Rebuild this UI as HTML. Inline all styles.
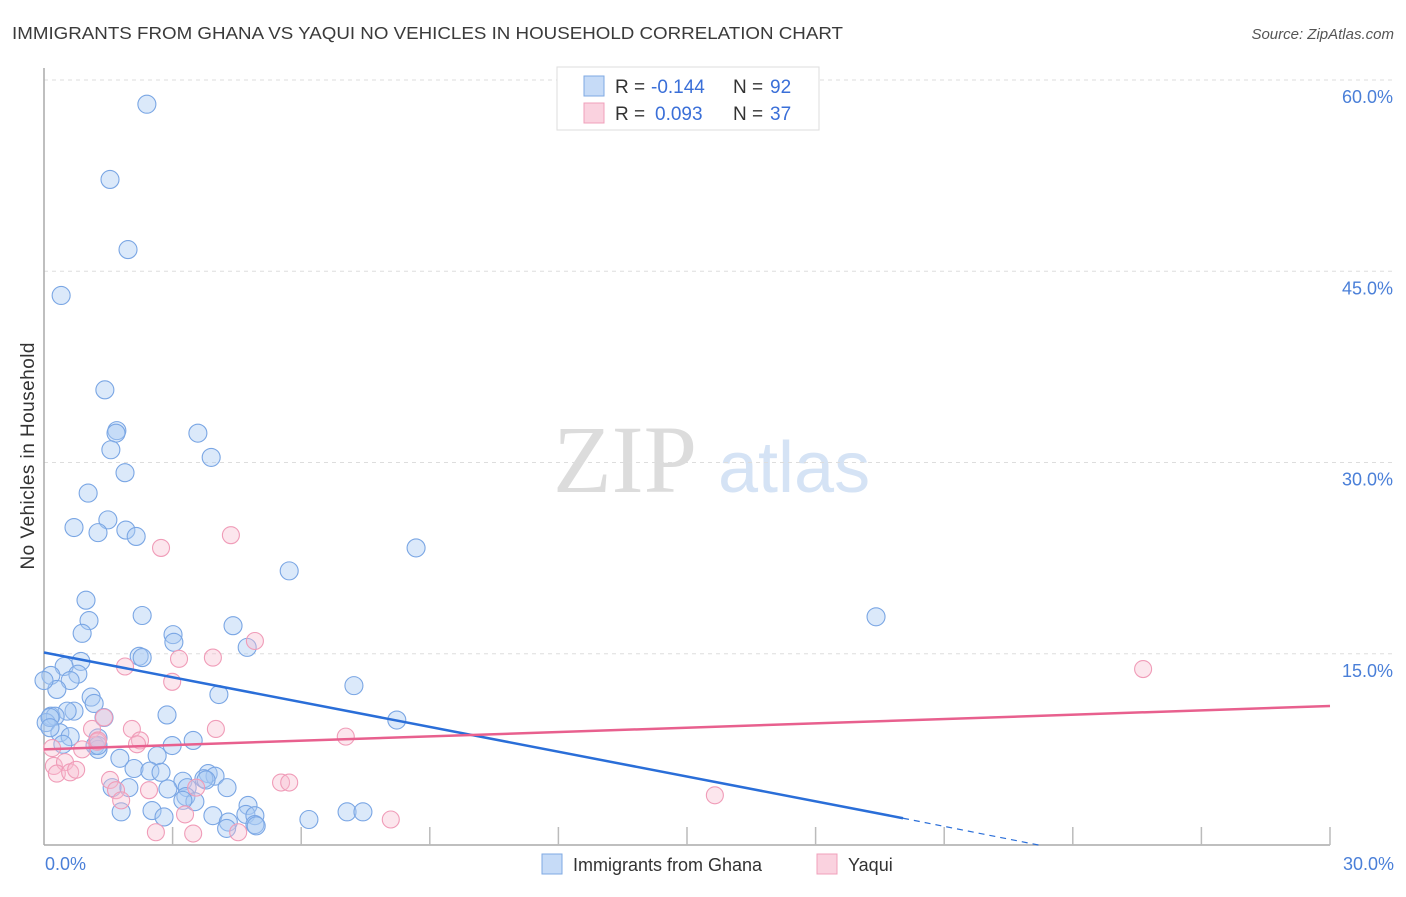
<!DOCTYPE html>
<html><head><meta charset="utf-8"><style>
body{margin:0;background:#fff;font-family:"Liberation Sans",sans-serif;}
svg text{font-family:"Liberation Sans",sans-serif;}
</style></head><body>
<svg width="1406" height="892" xmlns="http://www.w3.org/2000/svg">
<text x="12" y="39" font-size="17.5" fill="#3a3a3a" textLength="831" lengthAdjust="spacingAndGlyphs">IMMIGRANTS FROM GHANA VS YAQUI NO VEHICLES IN HOUSEHOLD CORRELATION CHART</text>
<text x="1394" y="39" font-size="15" fill="#555" text-anchor="end" font-style="italic">Source: ZipAtlas.com</text>
<g>
<text x="553" y="492" font-size="96" fill="#dcdcdc" style="font-family:'Liberation Serif',serif">ZIP</text>
<text x="718" y="492" font-size="72" fill="#d5e3f5">atlas</text>
</g>
<g id="grid"></g>
<g id="axes"></g>
<g id="pts"></g>
<g id="trends"></g>
<text x="34" y="456" font-size="19" fill="#333" text-anchor="middle" textLength="227" transform="rotate(-90 34 456)">No Vehicles in Household</text>
<g>
<rect x="557" y="67" width="262" height="63" fill="#fff" stroke="#ddd"/>
<rect x="584" y="76" width="20" height="20" fill="#c6dbf7" stroke="#7fa9e3"/>
<rect x="584" y="103" width="20" height="20" fill="#fad2df" stroke="#f0a0bb"/>
<text x="615" y="93" font-size="19" fill="#333">R =</text>
<text x="651" y="93" font-size="19" fill="#3a6fd8">-0.144</text>
<text x="733" y="93" font-size="19" fill="#333">N =</text>
<text x="770" y="93" font-size="19" fill="#3a6fd8">92</text>
<text x="615" y="120" font-size="19" fill="#333">R =</text>
<text x="655" y="120" font-size="19" fill="#3a6fd8">0.093</text>
<text x="733" y="120" font-size="19" fill="#333">N =</text>
<text x="770" y="120" font-size="19" fill="#3a6fd8">37</text>
</g>
<g>
<rect x="542" y="854" width="20" height="20" fill="#c6dbf7" stroke="#7fa9e3"/>
<text x="573" y="871" font-size="18" fill="#333">Immigrants from Ghana</text>
<rect x="817" y="854" width="20" height="20" fill="#fad2df" stroke="#f0a0bb"/>
<text x="848" y="871" font-size="18" fill="#333">Yaqui</text>
</g>
</svg>
<script>
const yTicks=[15,30,45,60];
const yTickLabels=["15.0%","30.0%","45.0%","60.0%"];
const xTicks=[3,6,9,12,15,18,21,24,27,30];
const blueX=[2.40,1.54,1.96,0.40,1.42,1.70,1.68,3.59,1.56,3.90,1.89,1.03,1.49,0.70,1.26,1.91,2.15,8.68,5.72,0.98,2.29,1.05,19.41,4.41,0.89,3.01,3.03,4.74,2.22,2.29,0.86,0.47,0.16,0.79,0.61,0.30,7.23,4.08,1.10,1.17,0.70,0.54,0.16,0.26,2.87,1.40,8.23,0.05,0.37,0.61,1.26,3.48,0.44,1.19,2.99,1.26,1.77,2.64,2.10,2.47,2.73,3.83,3.99,3.24,3.73,1.59,1.98,2.89,3.34,4.27,3.31,3.52,2.52,1.80,4.76,2.80,4.71,3.94,4.92,4.30,4.92,4.26,6.18,7.07,7.44,0.0,0.14,0.14,4.95,3.24,3.78,1.26];
const blueY=[58.1,52.2,46.7,43.1,35.7,32.5,32.3,32.3,31.0,30.4,29.2,27.6,25.5,24.9,24.5,24.7,24.2,23.3,21.5,19.2,18.0,17.6,17.9,17.2,16.6,16.5,15.9,15.5,14.8,14.7,14.4,14.0,13.3,13.4,12.9,12.2,12.5,11.8,11.6,11.1,10.5,10.5,10.1,10.1,10.2,10.0,9.8,9.6,8.8,8.5,8.4,8.2,7.9,7.8,7.8,7.5,6.8,7.0,6.0,5.8,5.7,5.6,5.4,5.0,5.2,4.5,4.5,4.4,4.5,4.5,3.8,3.4,2.7,2.6,3.1,2.2,2.4,2.3,2.3,1.8,1.6,1.3,2.0,2.6,2.6,12.9,10.0,9.2,1.5,3.5,5.1,7.8];
const pinkX=[2.73,4.36,4.92,1.89,3.15,3.94,2.99,1.40,2.05,4.01,1.12,7.04,2.24,2.17,1.24,0.89,0.19,0.23,0.49,0.30,0.61,0.75,1.54,5.53,5.72,1.68,2.45,1.80,15.65,25.64,2.61,3.48,4.53,8.09,3.29,3.55,1.26];
const pinkY=[23.3,24.3,16.0,14.0,14.6,14.7,12.8,10.0,9.1,9.1,9.1,8.5,8.2,7.9,8.1,7.5,7.6,6.2,6.5,5.6,5.7,5.9,5.1,4.9,4.9,4.3,4.3,3.5,3.9,13.8,1.0,0.9,1.0,2.0,2.4,4.5,8.2];
const blueTrend=[[0,15.1],[20.04,2.1]];
const blueTrendDash=[[20.04,2.1],[23.2,0]];
const pinkTrend=[[0,7.5],[30,10.9]];
const NS="http://www.w3.org/2000/svg";
const sx=v=>44+v*(1330-44)/30;
const sy=v=>845-v*(845-80)/60;
function mk(tag,attrs,parent){const e=document.createElementNS(NS,tag);for(const k in attrs)e.setAttribute(k,attrs[k]);document.getElementById(parent).appendChild(e);return e;}
yTicks.forEach((t,i)=>{
 const g=mk('line',{x1:44,x2:1394,y1:sy(t),y2:sy(t),stroke:'#ddd','stroke-dasharray':'4,4'},'grid');
 
 
 const l=mk('text',{x:1393,y:sy(t)+23,'font-size':18,fill:'#4a7fd8','text-anchor':'end'},'grid');
 l.textContent=yTickLabels[i];
 
 
});
const ax=mk('line',{x1:44,x2:44,y1:68,y2:845,stroke:'#aaa','stroke-width':1.5},'axes');


const bx=mk('line',{x1:44,x2:1330,y1:845,y2:845,stroke:'#aaa','stroke-width':1.5},'axes');


xTicks.forEach(t=>{const e=mk('line',{x1:sx(t),x2:sx(t),y1:827,y2:845,stroke:'#bbb','stroke-width':1.5},'axes');
 
 });
const x0=mk('text',{x:45,y:870,'font-size':18,fill:'#4a7fd8'},'axes');x0.textContent='0.0%';


const x1=mk('text',{x:1394,y:870,'font-size':18,fill:'#4a7fd8','text-anchor':'end'},'axes');x1.textContent='30.0%';


blueX.forEach((v,i)=>{const c=mk('circle',{cx:sx(v),cy:sy(blueY[i]),r:9,fill:'rgba(170,202,242,0.42)',stroke:'#7aa6e4','stroke-width':1.1},'pts');
 
 });
pinkX.forEach((v,i)=>{const c=mk('circle',{cx:sx(v),cy:sy(pinkY[i]),r:8.5,fill:'rgba(248,190,207,0.38)',stroke:'#f09cb8','stroke-width':1.1},'pts');
 
 });
const t1=mk('line',{x1:sx(blueTrend[0][0]),y1:sy(blueTrend[0][1]),x2:sx(blueTrend[1][0]),y2:sy(blueTrend[1][1]),stroke:'#2a6ed8','stroke-width':2.5},'trends');


const t2=mk('line',{x1:sx(blueTrendDash[0][0]),y1:sy(blueTrendDash[0][1]),x2:sx(blueTrendDash[1][0]),y2:sy(blueTrendDash[1][1]),stroke:'#2a6ed8','stroke-width':1.2,'stroke-dasharray':'6,5'},'trends');


const t3=mk('line',{x1:sx(pinkTrend[0][0]),y1:sy(pinkTrend[0][1]),x2:sx(pinkTrend[1][0]),y2:sy(pinkTrend[1][1]),stroke:'#e8608e','stroke-width':2.5},'trends');


</script>
</body></html>
